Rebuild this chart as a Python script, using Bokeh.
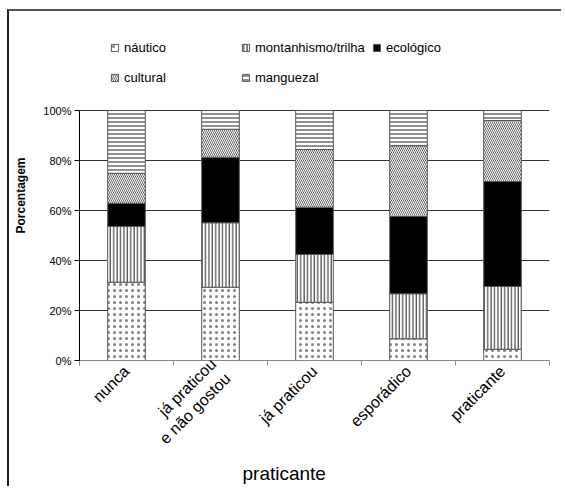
import math
from bokeh.plotting import figure
from bokeh.models import (ColumnDataSource, Range1d, FixedTicker, PrintfTickFormatter,
                          Legend, LegendItem)
from bokeh.embed import file_html
from bokeh.resources import INLINE

categories = ["nunca", "já praticou\ne não gostou", "já praticou", "esporádico", "praticante"]
series = ["náutico", "montanhismo/trilha", "ecológico", "cultural", "manguezal"]
nautico = [31.3, 29.3, 23.3, 8.7, 4.5]
montanhismo = [22.3, 25.8, 19.1, 18.0, 25.1]
ecologico = [9.3, 26.2, 18.9, 30.9, 42.0]
cultural = [12.0, 11.2, 23.1, 28.3, 24.4]
manguezal = [25.1, 7.5, 15.6, 14.1, 4.0]
y_ticks = [0, 20, 40, 60, 80, 100]
x_title = "praticante"
y_title = "Porcentagem"

FONT = "Liberation Sans"
keys = ["nautico", "montanhismo", "ecologico", "cultural", "manguezal"]
xs = [i + 0.5 for i in range(len(categories))]
source = ColumnDataSource(dict(x=xs, nautico=nautico, montanhismo=montanhismo,
                               ecologico=ecologico, cultural=cultural, manguezal=manguezal))

# frame is extended upward (to 132) so the legend can sit inside it, above the 100% line
p = figure(width=554, height=477, output_backend="svg", toolbar_location=None,
           x_range=Range1d(0, len(categories)), y_range=Range1d(0, 132),
           min_border_left=70, min_border_right=14, min_border_top=19, min_border_bottom=128,
           title=x_title, title_location="below")
p.styles = {"margin-left": "7px", "margin-top": "9px",
            "border-left": "2px solid #222222", "border-top": "2px solid #555555"}
p.outline_line_color = None
p.background_fill_color = "white"
p.border_fill_color = "white"

p.title.align = "left"
p.title.offset = 163
p.title.standoff = -6
p.title.text_font = FONT
p.title.text_font_style = "normal"
p.title.text_font_size = "19px"
p.title.text_color = "black"

renderers = p.vbar_stack(keys, x="x", width=0.4, source=source,
                         fill_color=["white", "white", "black", "white", "white"],
                         hatch_pattern=["dot", "vertical_line", None, "left_diagonal_line", "horizontal_line"],
                         hatch_color=["#808080", "#222222", "black", "#666666", "#222222"],
                         hatch_scale=[6, 3.4, 12, 4, 4],
                         hatch_weight=[1, 1, 1, 1, 1],
                         line_color="#555555", line_width=1)

# axes
xa = p.xaxis[0]
xa.ticker = FixedTicker(ticks=xs, minor_ticks=list(range(len(categories) + 1)))
xa.major_label_overrides = {x: c for x, c in zip(xs, categories)}
xa.major_label_orientation = math.pi / 4
xa.major_label_text_font = FONT
xa.major_label_text_font_size = "16px"
xa.major_label_text_color = "black"
xa.major_label_standoff = 2
xa.major_tick_line_color = None
xa.minor_tick_line_color = "#888888"
xa.minor_tick_out = 5
xa.minor_tick_in = 0
xa.axis_line_color = "#888888"

ya = p.yaxis[0]
ya.bounds = (y_ticks[0], y_ticks[-1])
ya.ticker = FixedTicker(ticks=y_ticks)
ya.formatter = PrintfTickFormatter(format="%d%%")
ya.major_label_text_font = FONT
ya.major_label_text_font_size = "11px"
ya.major_label_text_color = "black"
ya.major_tick_out = 5
ya.major_tick_in = 0
ya.minor_tick_line_color = None
ya.axis_line_color = "black"
ya.major_tick_line_color = "black"
ya.major_label_standoff = 3
ya.axis_label = y_title
ya.axis_label_text_font = FONT
ya.axis_label_text_font_style = "bold"
ya.axis_label_text_font_size = "12px"
ya.axis_label_text_color = "black"
ya.axis_label_standoff = 12

p.xgrid.visible = False
p.ygrid.ticker = FixedTicker(ticks=y_ticks)
p.ygrid.grid_line_color = "#333333"
p.ygrid.grid_line_width = 1

def make_legend(idx, loc):
    items = [LegendItem(label=series[i], renderers=[renderers[i]]) for i in idx]
    lg = Legend(items=items, location=loc, orientation="horizontal",
                label_text_font=FONT, label_text_font_size="13px", label_text_color="black",
                glyph_width=9, glyph_height=9, label_standoff=5, label_height=15,
                label_width=112, spacing=5, padding=0, margin=0,
                border_line_color=None, background_fill_alpha=0)
    p.add_layout(lg, "center")

make_legend([0, 1, 2], (31, 305))
make_legend([3, 4], (31, 275))

open("out.html", "w").write(file_html(p, INLINE))
